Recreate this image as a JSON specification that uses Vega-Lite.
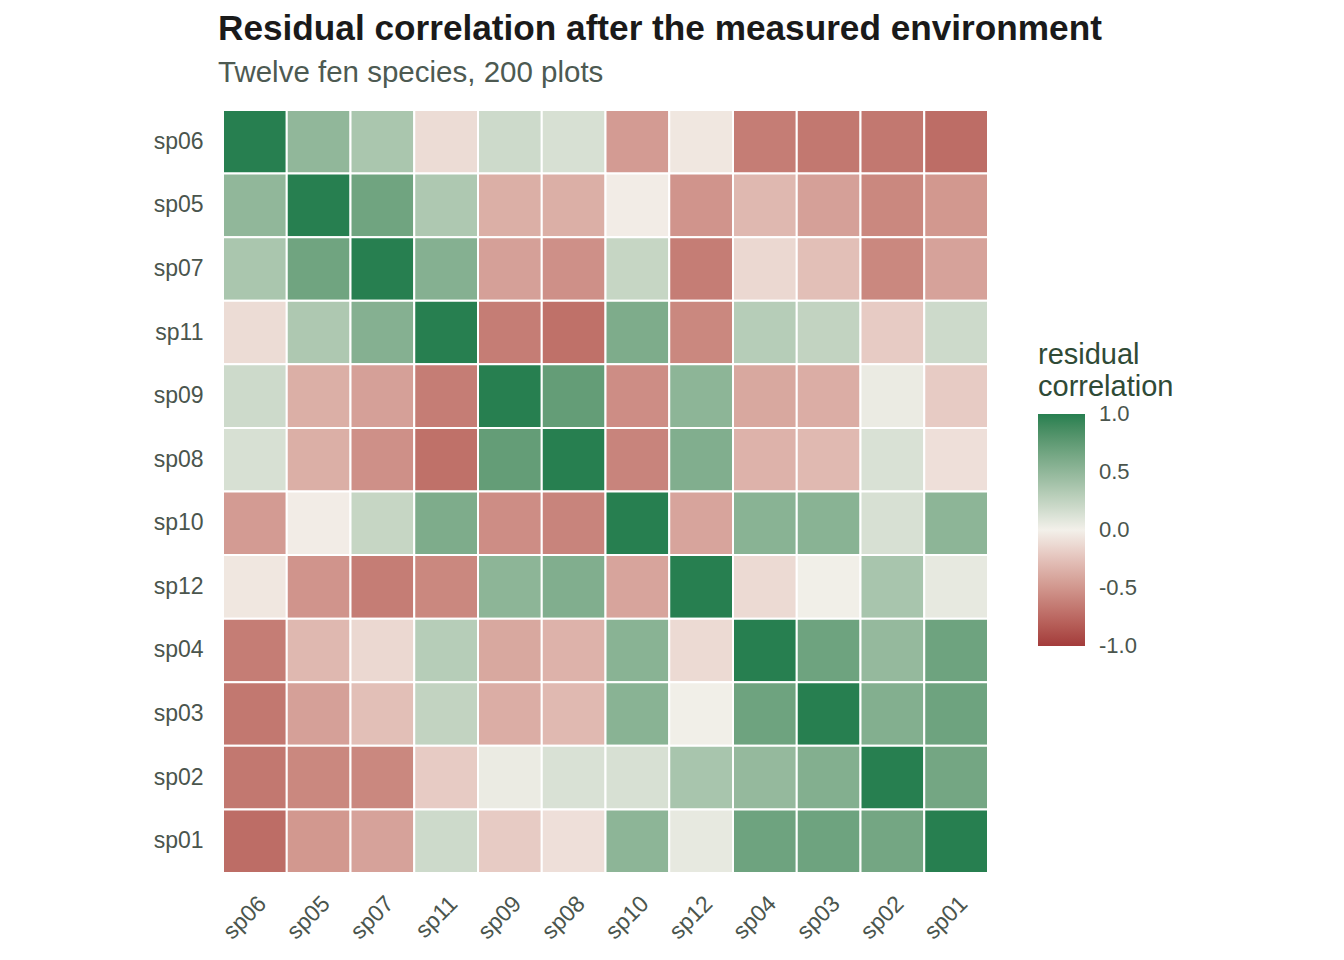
{
  "$schema": "https://vega.github.io/schema/vega-lite/v6.json",
  "autosize": {"type": "none"},
  "padding": {"left": 223, "top": 110, "right": 356, "bottom": 87},
  "width": 765,
  "height": 763,
  "background": "white",
  "title": {
    "text": "Residual correlation after the measured environment",
    "subtitle": "Twelve fen species, 200 plots",
    "anchor": "start",
    "frame": "group",
    "dx": -5,
    "offset": 22,
    "limit": 1100,
    "font": "Liberation Sans",
    "fontSize": 35.2,
    "fontWeight": "bold",
    "color": "#1a1a1a",
    "subtitleFont": "Liberation Sans",
    "subtitleFontSize": 29.5,
    "subtitleColor": "#4d5a52",
    "subtitlePadding": 11
  },
  "config": {
    "view": {"stroke": null},
    "font": "Liberation Sans"
  },
  "data": {
    "values": [
      {"x":"sp06","y":"sp06","r":1},{"x":"sp05","y":"sp06","r":0.50},{"x":"sp07","y":"sp06","r":0.37},{"x":"sp11","y":"sp06","r":-0.11},{"x":"sp09","y":"sp06","r":0.19},{"x":"sp08","y":"sp06","r":0.14},{"x":"sp10","y":"sp06","r":-0.47},{"x":"sp12","y":"sp06","r":-0.05},{"x":"sp04","y":"sp06","r":-0.64},{"x":"sp03","y":"sp06","r":-0.67},{"x":"sp02","y":"sp06","r":-0.67},{"x":"sp01","y":"sp06","r":-0.73},
      {"x":"sp06","y":"sp05","r":0.50},{"x":"sp05","y":"sp05","r":1},{"x":"sp07","y":"sp05","r":0.67},{"x":"sp11","y":"sp05","r":0.35},{"x":"sp09","y":"sp05","r":-0.36},{"x":"sp08","y":"sp05","r":-0.36},{"x":"sp10","y":"sp05","r":-0.02},{"x":"sp12","y":"sp05","r":-0.51},{"x":"sp04","y":"sp05","r":-0.31},{"x":"sp03","y":"sp05","r":-0.44},{"x":"sp02","y":"sp05","r":-0.58},{"x":"sp01","y":"sp05","r":-0.49},
      {"x":"sp06","y":"sp07","r":0.37},{"x":"sp05","y":"sp07","r":0.67},{"x":"sp07","y":"sp07","r":1},{"x":"sp11","y":"sp07","r":0.56},{"x":"sp09","y":"sp07","r":-0.44},{"x":"sp08","y":"sp07","r":-0.53},{"x":"sp10","y":"sp07","r":0.23},{"x":"sp12","y":"sp07","r":-0.64},{"x":"sp04","y":"sp07","r":-0.13},{"x":"sp03","y":"sp07","r":-0.27},{"x":"sp02","y":"sp07","r":-0.58},{"x":"sp01","y":"sp07","r":-0.43},
      {"x":"sp06","y":"sp11","r":-0.11},{"x":"sp05","y":"sp11","r":0.35},{"x":"sp07","y":"sp11","r":0.56},{"x":"sp11","y":"sp11","r":1},{"x":"sp09","y":"sp11","r":-0.64},{"x":"sp08","y":"sp11","r":-0.71},{"x":"sp10","y":"sp11","r":0.60},{"x":"sp12","y":"sp11","r":-0.58},{"x":"sp04","y":"sp11","r":0.31},{"x":"sp03","y":"sp11","r":0.25},{"x":"sp02","y":"sp11","r":-0.20},{"x":"sp01","y":"sp11","r":0.19},
      {"x":"sp06","y":"sp09","r":0.19},{"x":"sp05","y":"sp09","r":-0.36},{"x":"sp07","y":"sp09","r":-0.44},{"x":"sp11","y":"sp09","r":-0.64},{"x":"sp09","y":"sp09","r":1},{"x":"sp08","y":"sp09","r":0.73},{"x":"sp10","y":"sp09","r":-0.55},{"x":"sp12","y":"sp09","r":0.52},{"x":"sp04","y":"sp09","r":-0.40},{"x":"sp03","y":"sp09","r":-0.37},{"x":"sp02","y":"sp09","r":0.04},{"x":"sp01","y":"sp09","r":-0.20},
      {"x":"sp06","y":"sp08","r":0.14},{"x":"sp05","y":"sp08","r":-0.36},{"x":"sp07","y":"sp08","r":-0.53},{"x":"sp11","y":"sp08","r":-0.71},{"x":"sp09","y":"sp08","r":0.73},{"x":"sp08","y":"sp08","r":1},{"x":"sp10","y":"sp08","r":-0.60},{"x":"sp12","y":"sp08","r":0.58},{"x":"sp04","y":"sp08","r":-0.34},{"x":"sp03","y":"sp08","r":-0.30},{"x":"sp02","y":"sp08","r":0.13},{"x":"sp01","y":"sp08","r":-0.09},
      {"x":"sp06","y":"sp10","r":-0.47},{"x":"sp05","y":"sp10","r":-0.02},{"x":"sp07","y":"sp10","r":0.23},{"x":"sp11","y":"sp10","r":0.60},{"x":"sp09","y":"sp10","r":-0.55},{"x":"sp08","y":"sp10","r":-0.60},{"x":"sp10","y":"sp10","r":1},{"x":"sp12","y":"sp10","r":-0.42},{"x":"sp04","y":"sp10","r":0.54},{"x":"sp03","y":"sp10","r":0.54},{"x":"sp02","y":"sp10","r":0.14},{"x":"sp01","y":"sp10","r":0.52},
      {"x":"sp06","y":"sp12","r":-0.05},{"x":"sp05","y":"sp12","r":-0.51},{"x":"sp07","y":"sp12","r":-0.64},{"x":"sp11","y":"sp12","r":-0.58},{"x":"sp09","y":"sp12","r":0.52},{"x":"sp08","y":"sp12","r":0.58},{"x":"sp10","y":"sp12","r":-0.42},{"x":"sp12","y":"sp12","r":1},{"x":"sp04","y":"sp12","r":-0.12},{"x":"sp03","y":"sp12","r":0.01},{"x":"sp02","y":"sp12","r":0.38},{"x":"sp01","y":"sp12","r":0.06},
      {"x":"sp06","y":"sp04","r":-0.64},{"x":"sp05","y":"sp04","r":-0.31},{"x":"sp07","y":"sp04","r":-0.13},{"x":"sp11","y":"sp04","r":0.31},{"x":"sp09","y":"sp04","r":-0.40},{"x":"sp08","y":"sp04","r":-0.34},{"x":"sp10","y":"sp04","r":0.54},{"x":"sp12","y":"sp04","r":-0.12},{"x":"sp04","y":"sp04","r":1},{"x":"sp03","y":"sp04","r":0.68},{"x":"sp02","y":"sp04","r":0.48},{"x":"sp01","y":"sp04","r":0.68},
      {"x":"sp06","y":"sp03","r":-0.67},{"x":"sp05","y":"sp03","r":-0.44},{"x":"sp07","y":"sp03","r":-0.27},{"x":"sp11","y":"sp03","r":0.25},{"x":"sp09","y":"sp03","r":-0.37},{"x":"sp08","y":"sp03","r":-0.30},{"x":"sp10","y":"sp03","r":0.54},{"x":"sp12","y":"sp03","r":0.01},{"x":"sp04","y":"sp03","r":0.68},{"x":"sp03","y":"sp03","r":1},{"x":"sp02","y":"sp03","r":0.57},{"x":"sp01","y":"sp03","r":0.68},
      {"x":"sp06","y":"sp02","r":-0.67},{"x":"sp05","y":"sp02","r":-0.58},{"x":"sp07","y":"sp02","r":-0.58},{"x":"sp11","y":"sp02","r":-0.20},{"x":"sp09","y":"sp02","r":0.04},{"x":"sp08","y":"sp02","r":0.13},{"x":"sp10","y":"sp02","r":0.14},{"x":"sp12","y":"sp02","r":0.38},{"x":"sp04","y":"sp02","r":0.48},{"x":"sp03","y":"sp02","r":0.57},{"x":"sp02","y":"sp02","r":1},{"x":"sp01","y":"sp02","r":0.65},
      {"x":"sp06","y":"sp01","r":-0.73},{"x":"sp05","y":"sp01","r":-0.49},{"x":"sp07","y":"sp01","r":-0.43},{"x":"sp11","y":"sp01","r":0.19},{"x":"sp09","y":"sp01","r":-0.20},{"x":"sp08","y":"sp01","r":-0.09},{"x":"sp10","y":"sp01","r":0.52},{"x":"sp12","y":"sp01","r":0.06},{"x":"sp04","y":"sp01","r":0.68},{"x":"sp03","y":"sp01","r":0.68},{"x":"sp02","y":"sp01","r":0.65},{"x":"sp01","y":"sp01","r":1}
    ]
  },
  "mark": {"type": "rect", "stroke": "white", "strokeWidth": 2},
  "encoding": {
    "x": {
      "field": "x", "type": "nominal",
      "sort": ["sp06","sp05","sp07","sp11","sp09","sp08","sp10","sp12","sp04","sp03","sp02","sp01"],
      "scale": {"paddingInner": 0, "paddingOuter": 0},
      "axis": {
        "title": null, "domain": false, "ticks": false, "tickSize": 0,
        "labelAngle": -45, "labelAlign": "right", "labelBaseline": "top",
        "labelPadding": 19, "labelFontSize": 23, "labelColor": "#4a554d",
        "labelFont": "Liberation Sans"
      }
    },
    "y": {
      "field": "y", "type": "nominal",
      "sort": ["sp06","sp05","sp07","sp11","sp09","sp08","sp10","sp12","sp04","sp03","sp02","sp01"],
      "scale": {"paddingInner": 0, "paddingOuter": 0},
      "axis": {
        "title": null, "domain": false, "ticks": false, "tickSize": 0,
        "labelPadding": 20, "labelFontSize": 23, "labelColor": "#4a554d",
        "labelFont": "Liberation Sans"
      }
    },
    "color": {
      "field": "r", "type": "quantitative",
      "scale": {
        "type": "linear",
        "domain": [-1, 0, 1],
        "range": ["#a33b3b", "#f3f0ea", "#277f50"],
        "interpolate": "lab"
      },
      "legend": {
        "title": ["residual", "correlation"],
        "orient": "none",
        "legendX": 815,
        "legendY": 231,
        "direction": "vertical",
        "gradientLength": 232,
        "gradientThickness": 47,
        "gradientStrokeWidth": 0,
        "values": [-1, -0.5, 0, 0.5, 1],
        "labelExpr": "replace(format(datum.value, '.1f'), '\u2212', '-')",
        "labelBaseline": "middle",
        "labelOverlap": false,
        "labelFontSize": 22,
        "labelColor": "#4a554d",
        "labelFont": "Liberation Sans",
        "labelOffset": 14,
        "titleFont": "Liberation Sans",
        "titleFontSize": 29,
        "titleFontWeight": "normal",
        "titleColor": "#2f4a36",
        "titleLineHeight": 32,
        "titlePadding": 12,
        "tickCount": 5,
        "encode": {
          "labels": {
            "update": {"baseline": {"value": "middle"}}
          }
        }
      }
    }
  }
}
